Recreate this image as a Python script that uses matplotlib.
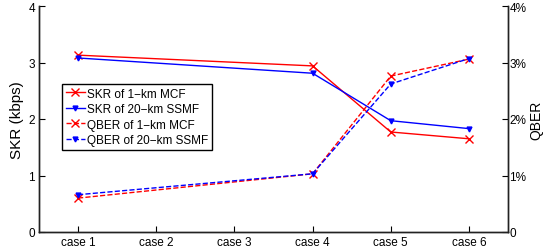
import matplotlib as mpl
from matplotlib import pyplot as plt
from matplotlib.ticker import FuncFormatter

mpl.rcParams['font.family'] = ['Liberation Sans', 'DejaVu Sans']

cases = ["case 1", "case 2", "case 3", "case 4", "case 5", "case 6"]
case_pos = [1, 2, 3, 4, 5, 6]

x_pts = [1, 4, 5, 6]
skr_mcf = [3.13, 2.94, 1.77, 1.65]
skr_ssmf = [3.08, 2.81, 1.97, 1.83]
qber_mcf = [0.60, 1.03, 2.76, 3.06]
qber_ssmf = [0.66, 1.03, 2.62, 3.07]

fig = plt.figure(figsize=(5.56, 2.53), dpi=100)
ax = fig.add_axes([39/556, 20/253, 469/556, 226/253])
ax2 = ax.twinx()

l1, = ax.plot(x_pts, skr_mcf, color="red", marker="x", ms=6, lw=1, label="SKR of 1\u2212km MCF")
l2, = ax.plot(x_pts, skr_ssmf, color="blue", marker="v", ms=3.5, lw=1, label="SKR of 20\u2212km SSMF")
l3, = ax2.plot(x_pts, qber_mcf, color="red", marker="x", ms=6, lw=1, ls="--", label="QBER of 1\u2212km MCF")
l4, = ax2.plot(x_pts, qber_ssmf, color="blue", marker="v", ms=3.5, lw=1, ls="--", label="QBER of 20\u2212km SSMF")

ax.set_xlim(0.5, 6.5)
ax.set_ylim(0, 4)
ax2.set_ylim(0, 4)
ax.set_xticks(case_pos)
ax.set_xticklabels(cases)
ax.set_yticks([0, 1, 2, 3, 4])
ax2.set_yticks([0, 1, 2, 3, 4])

def pct(value, tick_number):
    if value == 0:
        return "0"
    return "%d%%" % value

ax2.yaxis.set_major_formatter(FuncFormatter(pct))

ax.set_ylabel("SKR (kbps)", fontsize=11, labelpad=3)
ax2.set_ylabel("QBER", fontsize=10, labelpad=2)

for a in (ax, ax2):
    a.spines["top"].set_visible(False)
    for s in a.spines.values():
        s.set_linewidth(1.0)
        s.set_color("#222222")
ax.tick_params(axis="both", direction="in", length=4, labelsize=8.5, pad=3)
ax2.tick_params(axis="y", direction="in", length=4, labelsize=8.5, pad=1)

leg = ax.legend(handles=[l1, l2, l3, l4], loc="upper left", bbox_to_anchor=(0.05, 0.655),
                fontsize=8.5, frameon=True, fancybox=False, framealpha=1,
                edgecolor="black", handlelength=1.6, handletextpad=0.2,
                borderpad=0.3, labelspacing=0.3, borderaxespad=0)
leg.get_frame().set_linewidth(1.0)

plt.savefig("out.png", format="png", dpi=100)
